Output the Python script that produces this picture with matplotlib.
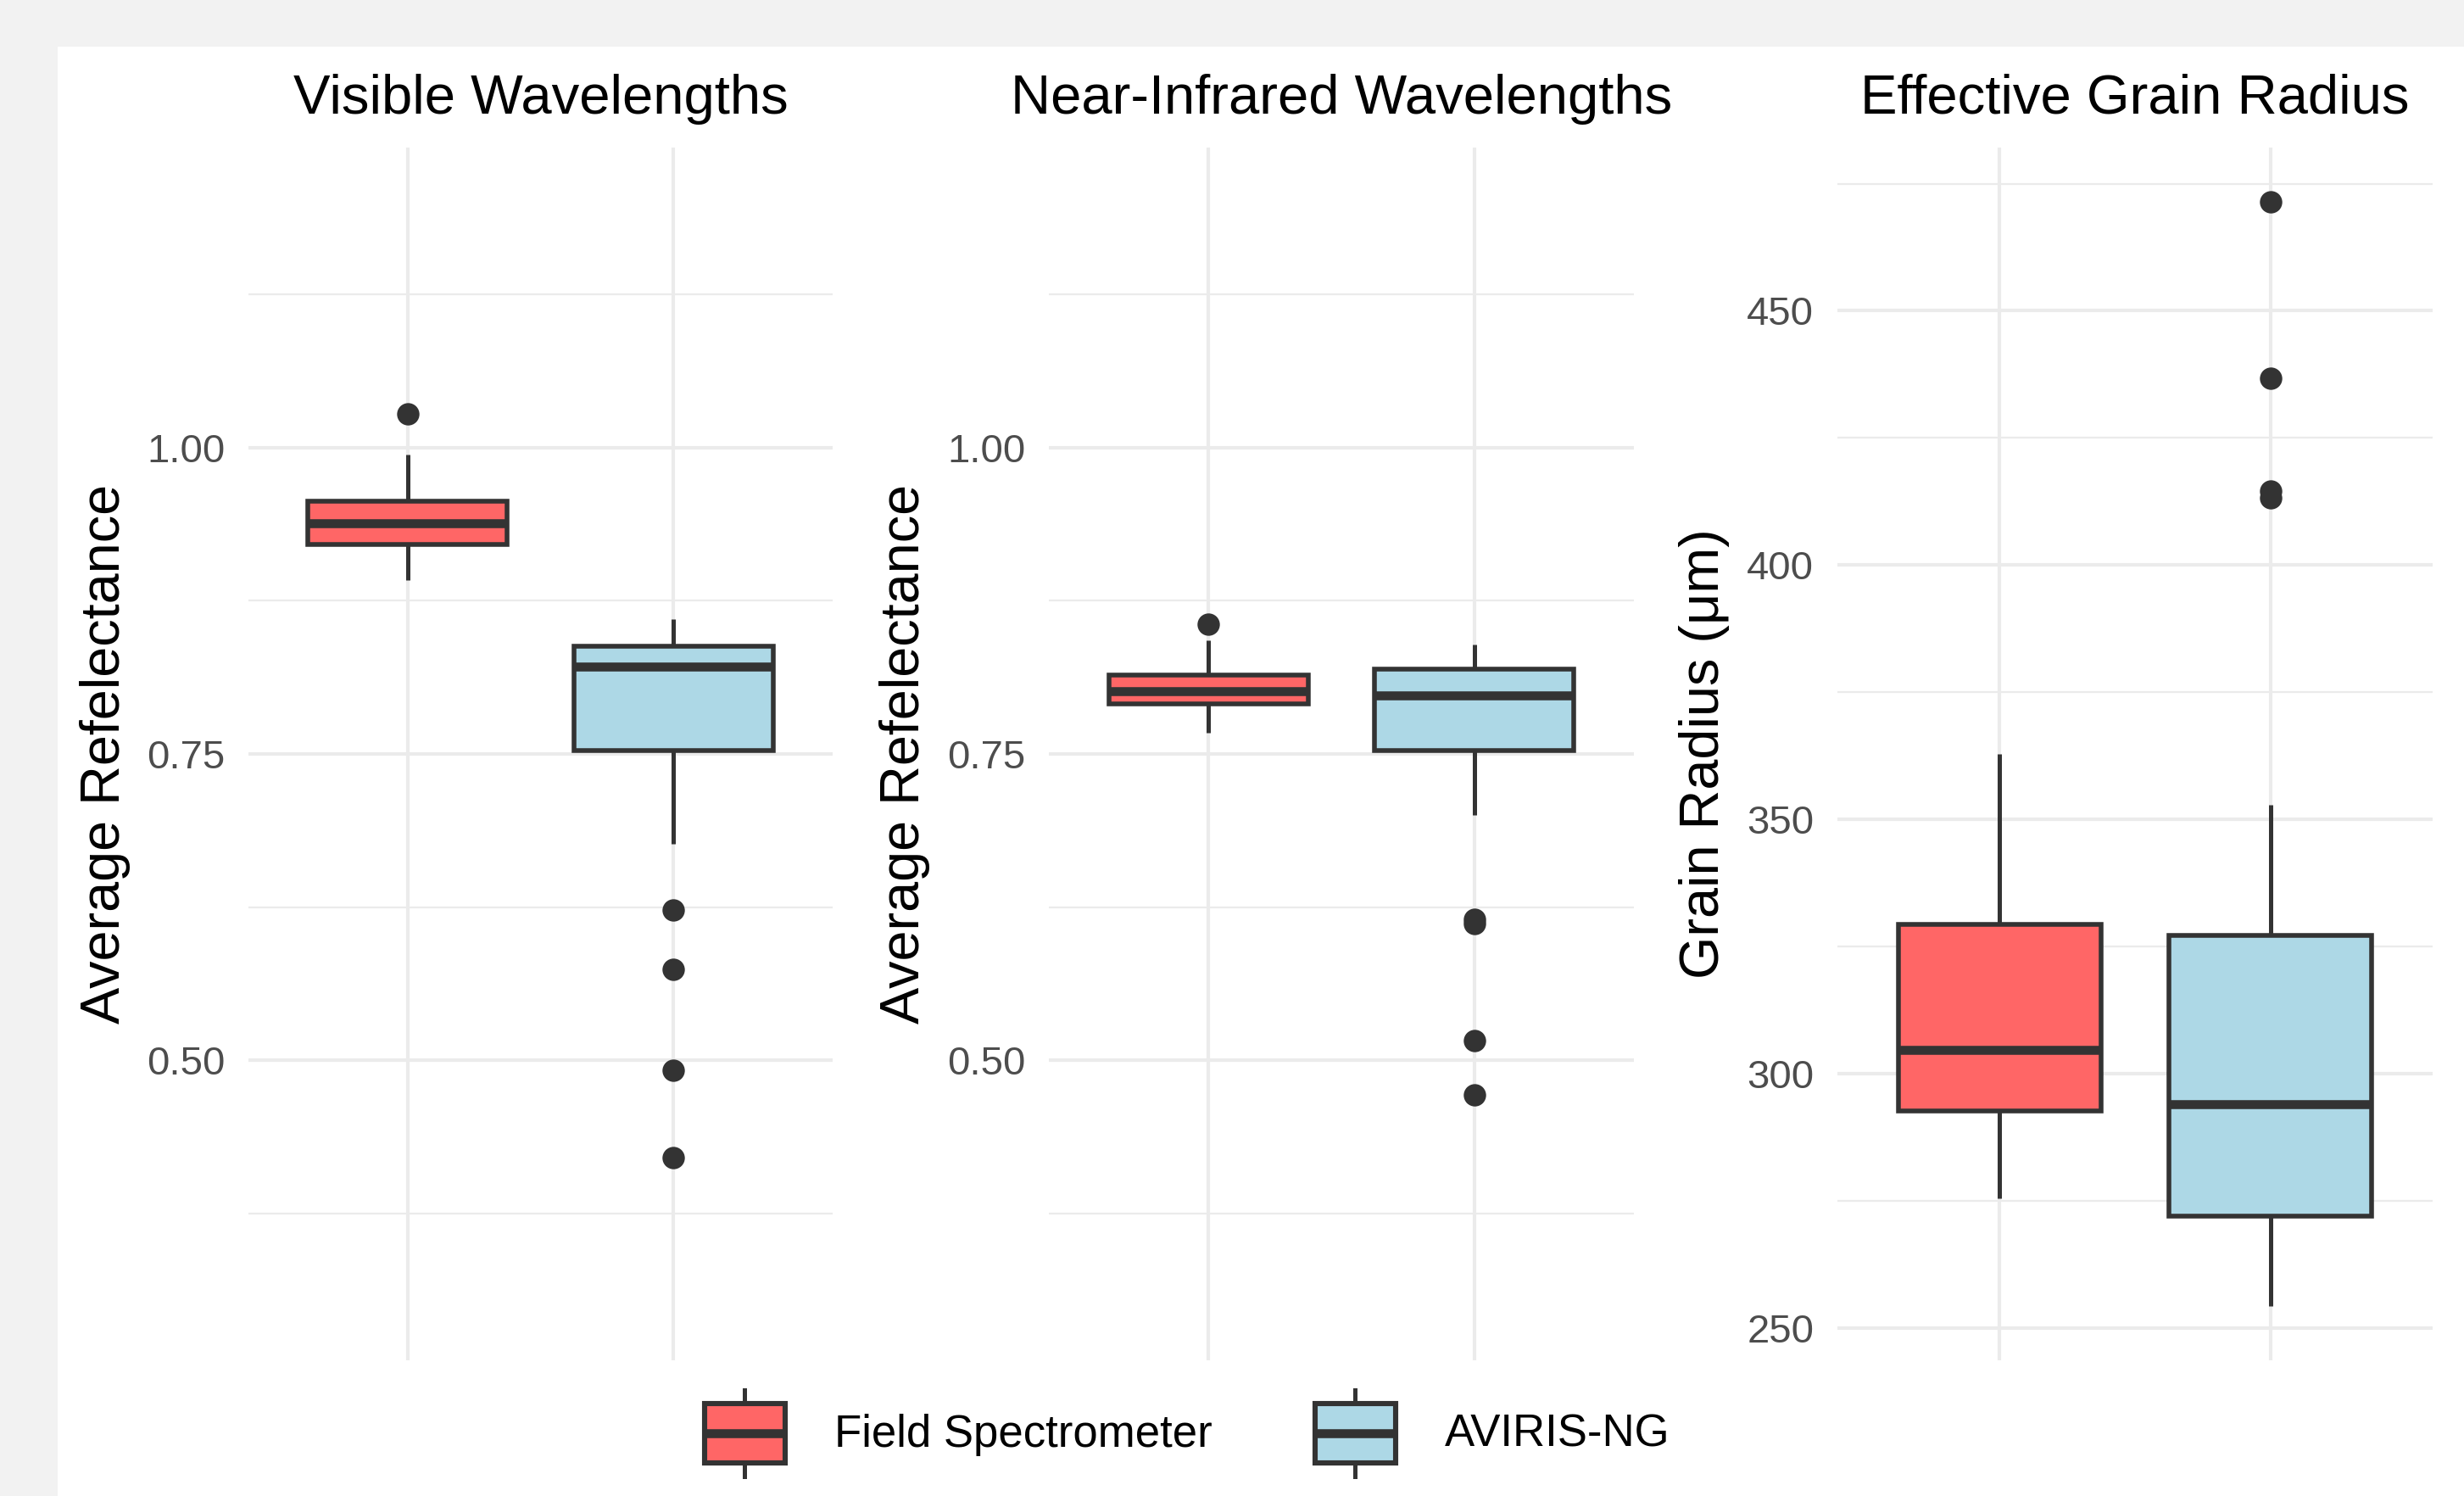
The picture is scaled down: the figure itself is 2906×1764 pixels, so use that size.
import numpy as np
import matplotlib
matplotlib.use("Agg")
import matplotlib.pyplot as plt
from matplotlib.patches import Rectangle
from matplotlib.lines import Line2D
from matplotlib.legend_handler import HandlerBase

plt.rcParams['font.family'] = ['Liberation Sans', 'DejaVu Sans']

# ---- data ----
sources = ["Field Spectrometer", "AVIRIS-NG"]
source_colors = ["#FF6666", "#ADD8E6"]

vis_whislo = [0.892, 0.677]
vis_q1 = [0.921, 0.753]
vis_med = [0.938, 0.821]
vis_q3 = [0.956, 0.838]
vis_whishi = [0.994, 0.860]
vis_fliers = [[1.027], [0.623, 0.574, 0.492, 0.421]]

nir_whislo = [0.767, 0.700]
nir_q1 = [0.791, 0.753]
nir_med = [0.801, 0.798]
nir_q3 = [0.814, 0.819]
nir_whishi = [0.843, 0.839]
nir_fliers = [[0.856], [0.615, 0.612, 0.516, 0.472]]

gr_whislo = [275.4, 254.2]
gr_q1 = [292.6, 271.9]
gr_med = [304.7, 293.9]
gr_q3 = [329.3, 327.2]
gr_whishi = [362.8, 352.8]
gr_fliers = [[], [471.4, 436.8, 414.5, 413.3]]

refl_ticks = [0.50, 0.75, 1.00]
refl_minor = [0.375, 0.625, 0.875, 1.125]
grain_ticks = [250, 300, 350, 400, 450]
grain_minor = [275, 325, 375, 425, 475]

EDGE = "#333333"
GRID = "#EBEBEB"
W, H, DPI = 2906, 1764, 200


def make_stats(whislo, q1, med, q3, whishi, fliers):
    out = []
    for i in range(len(med)):
        out.append(dict(whislo=whislo[i], q1=q1[i], med=med[i], q3=q3[i],
                        whishi=whishi[i], fliers=np.array(fliers[i])))
    return out


def px_axes(fig, left, right, top, bottom):
    return fig.add_axes([left / W, 1 - bottom / H, (right - left) / W, (bottom - top) / H])


def draw_panel(ax, stats, title, ylim, ticks, minor, fmt):
    ax.set_axisbelow(True)
    bp = ax.bxp(stats, positions=[1, 2], widths=0.75, patch_artist=True, showcaps=False,
                boxprops=dict(edgecolor=EDGE, linewidth=2.0),
                medianprops=dict(color=EDGE, linewidth=3.8, solid_capstyle='butt'),
                whiskerprops=dict(color=EDGE, linewidth=1.8, solid_capstyle='butt'),
                flierprops=dict(marker='o', markerfacecolor=EDGE, markeredgecolor=EDGE,
                                markersize=8.5, linestyle='none'))
    for patch, c in zip(bp['boxes'], source_colors):
        patch.set_facecolor(c)
    ax.set_xlim(0.4, 2.6)
    ax.set_ylim(*ylim)
    ax.set_xticks([1, 2])
    ax.set_xticklabels([])
    ax.set_yticks(ticks)
    ax.set_yticklabels([fmt.format(t) for t in ticks])
    ax.set_yticks(minor, minor=True)
    ax.grid(True, which='major', color=GRID, linewidth=1.5)
    ax.grid(True, which='minor', axis='y', color=GRID, linewidth=0.8)
    ax.tick_params(which='both', length=0)
    ax.tick_params(axis='y', labelsize=17, labelcolor='#4D4D4D', pad=10)
    for s in ax.spines.values():
        s.set_visible(False)
    ax.patch.set_alpha(0)
    ax.set_title(title, fontsize=23.5, pad=14.5)


class BoxKey(HandlerBase):
    def __init__(self, color):
        super().__init__()
        self.color = color

    def create_artists(self, legend, orig_handle, xdescent, ydescent, width, height,
                       fontsize, trans):
        x0, y0 = -xdescent, -ydescent
        xc = x0 + width / 2
        b0, b1 = y0 + 0.16 * height, y0 + 0.84 * height
        rect = Rectangle((x0, b0), width, b1 - b0, facecolor=self.color,
                         edgecolor=EDGE, linewidth=2.2, transform=trans)
        med = Line2D([x0, x0 + width], [y0 + height / 2] * 2, color=EDGE,
                     linewidth=3.8, solid_capstyle='butt', transform=trans)
        wlo = Line2D([xc, xc], [y0, b0], color=EDGE, linewidth=1.8, transform=trans)
        whi = Line2D([xc, xc], [b1, y0 + height], color=EDGE, linewidth=1.8, transform=trans)
        return [rect, med, wlo, whi]


fig = plt.figure(figsize=(W / DPI, H / DPI), dpi=DPI, facecolor='#F2F2F2')
fig.patches.append(Rectangle((68 / W, 0), 1 - 68 / W, 1 - 55 / H, transform=fig.transFigure,
                             facecolor='white', edgecolor='none', zorder=-10))

refl_lim = (0.2555, 1.2445)
grain_lim = (243.6, 482.1)

ax1 = px_axes(fig, 293, 982, 174, 1604)
draw_panel(ax1, make_stats(vis_whislo, vis_q1, vis_med, vis_q3, vis_whishi, vis_fliers),
           "Visible Wavelengths", refl_lim, refl_ticks, refl_minor, "{:.2f}")

ax2 = px_axes(fig, 1237, 1927, 174, 1604)
draw_panel(ax2, make_stats(nir_whislo, nir_q1, nir_med, nir_q3, nir_whishi, nir_fliers),
           "Near-Infrared Wavelengths", refl_lim, refl_ticks, refl_minor, "{:.2f}")

ax3 = px_axes(fig, 2167, 2869, 174, 1604)
draw_panel(ax3, make_stats(gr_whislo, gr_q1, gr_med, gr_q3, gr_whishi, gr_fliers),
           "Effective Grain Radius", grain_lim, grain_ticks, grain_minor, "{:.0f}")

# y labels
for xpx, lab in [(124, "Average Refelectance"), (1067, "Average Refelectance"),
                 (2010, "Grain Radius (μm)")]:
    fig.text(xpx / W, 1 - 889 / H, lab, rotation=90, ha='center', va='center', fontsize=23.3)

# legend
handles = [Rectangle((0, 0), 1, 1) for _ in sources]
fig.legend(handles, sources, loc='center', bbox_to_anchor=(1400 / W, 1 - 1690 / H),
           ncol=2, frameon=False, fontsize=19, handlelength=1.8, handleheight=2.6,
           handletextpad=1.1, columnspacing=2.3,
           handler_map={handles[0]: BoxKey(source_colors[0]),
                        handles[1]: BoxKey(source_colors[1])})

fig.savefig("out.png", dpi=DPI, facecolor=fig.get_facecolor())
